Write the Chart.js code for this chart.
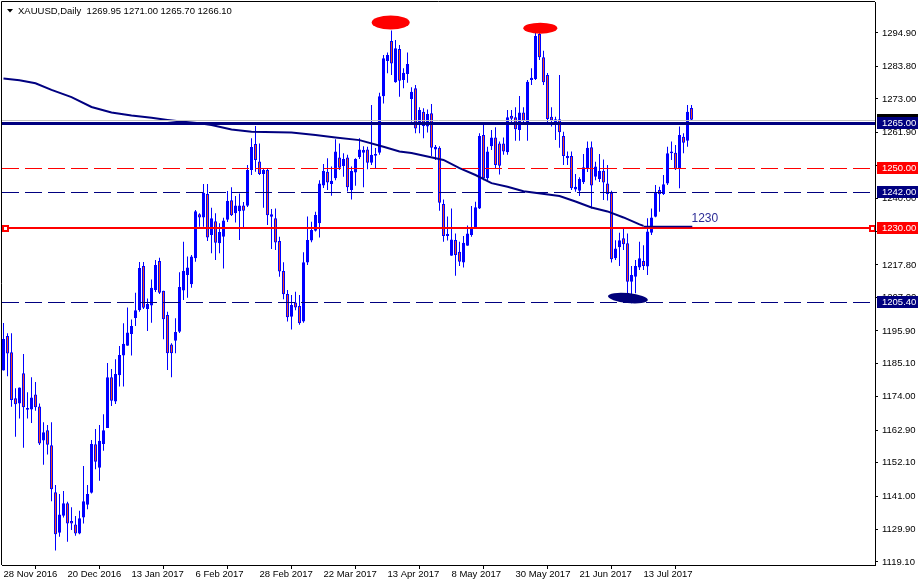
<!DOCTYPE html>
<html>
<head>
<meta charset="utf-8">
<script src="https://cdn.jsdelivr.net/npm/chart.js@4"></script>
<style>
  html, body { margin: 0; padding: 0; background: #fff; }
  canvas { display: block; }
</style>
</head>
<body>
<canvas id="chart" width="918" height="585"></canvas>
<script>
// XAUUSD daily bars, 28 Nov 2016 .. end of Jul 2017
const opens = [
  1182.7,1194.2,1188.8,1173.5,1171.8,1181.8,1169.7,1169.8,1174.8,1170.8,
  1159.5,1162.9,1157.9,1142.3,1128.8,1134.5,1138.6,1132.7,1131.6,1128.6,
  1133.9,1138.1,1142.1,1158.2,1150.4,1158.3,1163.6,1180.5,1172.4,1181.2,
  1187.7,1191.0,1194.9,1200.2,1202.8,1217.5,1203.2,1204.3,1209.5,1219.1,
  1209.2,1201.2,1191.4,1192.6,1195.6,1209.3,1214.5,1211.4,1220.0,1234.7,
  1233.6,1241.4,1227.8,1232.3,1225.0,1227.2,1232.8,1239.3,1235.0,1235.7,
  1237.6,1237.5,1249.4,1258.0,1252.2,1248.0,1249.4,1233.8,1233.3,1225.8,
  1215.8,1208.2,1200.6,1205.3,1204.2,1199.0,1218.6,1225.9,1229.2,1231.7,
  1244.2,1248.8,1244.7,1246.6,1253.5,1250.7,1253.5,1242.7,1248.5,1253.6,
  1255.1,1256.2,1251.8,1254.1,1255.1,1273.9,1285.6,1292.2,1278.5,1289.6,
  1279.3,1281.3,1273.0,1276.5,1264.3,1268.7,1263.8,1268.2,1256.2,1256.8,
  1238.1,1227.4,1220.9,1226.1,1222.2,1218.6,1224.2,1227.8,1230.3,1236.6,
  1261.0,1246.6,1257.3,1260.2,1258.2,1258.2,1255.3,1267.4,1266.9,1262.7,
  1268.5,1264.9,1279.3,1279.6,1294.6,1286.8,1280.9,1267.1,1265.1,1266.2,
  1260.7,1254.0,1254.0,1242.9,1242.5,1245.3,1249.7,1256.9,1247.1,1246.4,
  1249.1,1244.9,1241.8,1220.0,1223.7,1226.7,1225.0,1212.2,1213.9,1217.0,
  1219.1,1217.3,1228.5,1233.8,1242.7,1241.4,1244.9,1254.9,1255.1,1249.9,
  1260.4,1259.1,1269.95
];
const highs = [
  1198.5,1195.1,1195.1,1176.8,1177.1,1188.2,1175.5,1180.5,1178.9,1171.8,
  1165.5,1164.6,1165.5,1144.7,1141.7,1142.7,1139.1,1137.3,1134.4,1136.1,
  1151.0,1144.7,1159.6,1163.3,1164.6,1168.2,1185.2,1183.2,1186.5,1190.9,
  1198.4,1203.7,1199.7,1208.6,1218.8,1218.8,1206.7,1213.0,1219.5,1220.2,
  1209.2,1202.3,1191.8,1200.1,1215.4,1225.5,1220.6,1221.1,1236.1,1235.0,
  1244.7,1244.7,1236.8,1235.0,1231.7,1233.5,1242.4,1243.6,1240.7,1241.6,
  1238.7,1251.0,1259.9,1264.0,1258.2,1250.0,1249.9,1236.4,1236.6,1227.2,
  1218.7,1209.5,1207.8,1208.9,1207.8,1222.0,1233.9,1232.2,1235.5,1246.0,
  1251.4,1253.3,1250.5,1259.6,1258.2,1254.9,1254.4,1250.5,1253.3,1259.9,
  1257.3,1257.1,1271.0,1256.7,1275.0,1287.6,1288.4,1295.7,1292.6,1290.9,
  1283.2,1288.4,1276.9,1277.6,1270.2,1269.9,1269.5,1271.3,1257.7,1257.3,
  1239.6,1233.9,1236.6,1228.3,1225.5,1227.4,1230.9,1237.4,1238.8,1261.6,
  1264.9,1257.1,1262.7,1263.6,1258.8,1260.2,1269.3,1269.3,1270.2,1274.0,
  1270.2,1279.3,1283.2,1295.9,1297.2,1289.0,1281.6,1270.2,1267.1,1280.9,
  1262.1,1255.5,1255.5,1248.0,1247.0,1254.7,1258.8,1258.8,1252.1,1254.7,
  1252.9,1251.0,1242.5,1226.0,1228.5,1230.0,1228.3,1217.5,1219.5,1225.5,
  1224.4,1233.3,1236.6,1244.4,1243.8,1247.7,1257.1,1258.8,1257.7,1263.8,
  1261.6,1271.0,1271.0
];
const lows = [
  1182.7,1180.8,1170.7,1160.7,1166.8,1157.1,1166.8,1165.3,1169.4,1158.0,
  1151.4,1154.8,1139.3,1122.9,1127.5,1133.9,1125.8,1129.7,1127.8,1128.3,
  1131.9,1136.6,1141.9,1149.9,1146.1,1156.1,1163.6,1170.9,1171.6,1177.4,
  1177.4,1191.0,1187.7,1197.5,1202.3,1203.2,1195.9,1198.6,1208.8,1208.2,
  1193.1,1182.9,1180.5,1188.5,1195.2,1206.2,1206.9,1210.2,1218.9,1230.5,
  1230.5,1225.8,1221.7,1219.5,1221.7,1216.6,1232.1,1234.1,1231.9,1226.1,
  1230.1,1237.1,1247.7,1248.8,1247.7,1236.8,1231.1,1223.1,1222.8,1213.9,
  1206.4,1199.0,1196.4,1202.8,1197.9,1198.6,1217.8,1225.4,1228.9,1226.9,
  1243.4,1242.7,1240.8,1246.0,1249.4,1247.1,1242.2,1239.6,1244.1,1253.0,
  1243.6,1249.6,1251.0,1250.0,1254.4,1271.5,1281.5,1280.9,1278.4,1273.7,
  1276.5,1278.4,1265.4,1261.6,1261.6,1259.9,1261.8,1254.0,1252.7,1235.8,
  1225.5,1225.9,1220.9,1214.2,1217.5,1217.0,1224.2,1227.2,1230.3,1236.4,
  1246.0,1246.0,1256.0,1249.7,1247.9,1254.4,1254.4,1264.3,1259.1,1259.1,
  1264.3,1259.1,1277.6,1279.3,1285.9,1277.6,1264.6,1263.8,1259.3,1256.8,
  1251.0,1251.0,1242.7,1242.1,1240.7,1244.7,1248.7,1236.6,1246.0,1245.4,
  1239.4,1239.2,1218.6,1219.5,1217.5,1222.8,1207.8,1205.1,1208.4,1216.1,
  1216.1,1214.5,1227.8,1233.7,1235.5,1241.1,1244.4,1252.7,1249.4,1243.3,
  1254.9,1257.1,1265.7
];
const closes = [
  1193.2,1188.4,1172.9,1171.5,1177.1,1170.5,1170.3,1173.8,1170.5,1158.5,
  1162.2,1158.1,1143.3,1128.3,1134.9,1138.6,1131.9,1131.9,1128.6,1133.6,
  1139.3,1141.7,1158.3,1152.4,1159.4,1162.9,1180.5,1172.7,1181.6,1187.9,
  1191.6,1195.4,1197.5,1202.8,1216.8,1203.6,1204.8,1210.2,1217.8,1208.6,
  1199.8,1188.5,1188.5,1195.5,1210.5,1215.8,1217.0,1220.6,1235.7,1233.6,
  1241.8,1226.9,1233.3,1225.2,1228.8,1232.6,1239.1,1234.3,1237.6,1237.6,
  1235.8,1249.4,1257.0,1252.7,1248.0,1249.4,1234.3,1234.7,1225.3,1215.6,
  1208.1,1200.4,1204.5,1203.7,1198.4,1218.7,1226.1,1229.4,1234.4,1244.9,
  1249.0,1245.2,1245.8,1255.5,1250.1,1253.0,1243.6,1249.0,1253.0,1256.2,
  1256.0,1251.8,1254.4,1254.7,1273.9,1286.5,1287.6,1284.8,1289.8,1279.0,
  1281.7,1284.6,1275.4,1263.2,1269.3,1264.0,1268.0,1256.8,1257.1,1238.5,
  1227.4,1228.1,1226.3,1221.1,1218.9,1225.2,1228.3,1230.3,1237.0,1260.7,
  1246.6,1255.5,1260.2,1251.0,1250.8,1255.5,1266.9,1266.4,1262.9,1268.5,
  1265.7,1278.7,1280.0,1293.9,1286.8,1278.5,1266.3,1265.8,1266.2,1261.9,
  1254.0,1253.3,1243.3,1243.8,1246.4,1250.3,1256.8,1244.2,1250.5,1249.1,
  1245.2,1241.4,1219.7,1223.3,1226.0,1224.7,1212.2,1214.5,1217.5,1220.0,
  1217.5,1228.9,1233.6,1241.9,1241.3,1244.6,1254.9,1255.5,1249.6,1261.0,
  1258.4,1268.7,1266.1
];

// moving average line, read at some bar numbers
const maIdx = [0,4,8,12,17,22,27,32,37,41,45,49,52,57,62,72,78,83,89,95,99,102,110,114,118,122,126,130,139,143,147,151,155,159,160];
const maVals = [1279.8,1279.2,1278.2,1276.0,1273.6,1270.3,1268.5,1267.5,1266.7,1266.0,1265.4,1264.9,1264.3,1262.8,1262.1,1261.8,1261.0,1260.2,1259.3,1257.1,1255.5,1255.0,1252.7,1250.0,1247.7,1245.0,1243.8,1242.3,1240.7,1238.9,1236.9,1235.6,1233.6,1231.3,1230.8];

// axis labels
const xTickIdx = [0,16,32,48,64,80,96,112,128,144,160];
const xTickLabels = ['28 Nov 2016','20 Dec 2016','13 Jan 2017','6 Feb 2017','28 Feb 2017','22 Mar 2017','13 Apr 2017','8 May 2017','30 May 2017','21 Jun 2017','13 Jul 2017'];
const yTickValues = [1294.9,1283.8,1273.0,1261.9,1250.9,1240.0,1228.9,1217.8,1207.0,1195.9,1185.1,1174.0,1162.9,1152.1,1141.0,1129.9,1119.1];

// horizontal levels drawn on the chart
const levelPrices = [1265.00, 1250.00, 1242.00, 1230.00, 1205.40];
const bidPrice = 1266.10;
const trendPrice = 1230.6;       // short line with the "1230" note
const titleText = 'XAUUSD,Daily  1269.95 1271.00 1265.70 1266.10';

const NAVY = '#000080';
const RED = '#ff0000';
const levelStyle = [
  { color: NAVY, width: 3, dash: [] },
  { color: RED, width: 1, dash: [17, 6] },
  { color: NAVY, width: 1, dash: [17, 6] },
  { color: RED, width: 2, dash: [] },
  { color: NAVY, width: 1, dash: [17, 6] }
];

const FONT = '"Liberation Sans", Arial, sans-serif';

const wicks = opens.map((o, i) => ({ x: i, y: [lows[i], highs[i]] }));
const bodies = opens.map((o, i) => ({ x: i, y: [o, closes[i]] }));
const bodyColors = opens.map((o, i) => closes[i] >= o ? '#0000ff' : '#f24a22');
const maPoints = maIdx.map((x, k) => ({ x: x, y: maVals[k] }));

// no extra room for half labels at the ends of the axes
function noPad(s) {
  s.paddingTop = 0; s.paddingBottom = 0; s.paddingLeft = 0; s.paddingRight = 0;
}

// drawings that sit on top of the bars
const mt4Objects = {
  id: 'mt4Objects',
  afterDatasetsDraw(chart) {
    const { ctx, chartArea: a, scales } = chart;
    const x = scales.x, y = scales.y;
    ctx.save();
    ctx.beginPath();
    ctx.rect(a.left, a.top, a.right - a.left, a.bottom - a.top);
    ctx.clip();

    // bid line
    let py = Math.round(y.getPixelForValue(bidPrice)) + 0.5;
    ctx.strokeStyle = '#c0c0c0';
    ctx.lineWidth = 1;
    ctx.beginPath(); ctx.moveTo(a.left, py); ctx.lineTo(a.right, py); ctx.stroke();

    levelPrices.forEach((p, k) => {
      const s = levelStyle[k];
      let ly = y.getPixelForValue(p);
      if (s.width % 2 === 1) ly = Math.round(ly) + 0.5; else ly = Math.round(ly);
      ctx.strokeStyle = s.color;
      ctx.lineWidth = s.width;
      ctx.setLineDash(s.dash);
      ctx.beginPath(); ctx.moveTo(a.left, ly); ctx.lineTo(a.right, ly); ctx.stroke();
    });
    ctx.setLineDash([]);

    // short navy line and its note
    py = Math.round(y.getPixelForValue(trendPrice)) + 0.5;
    ctx.strokeStyle = NAVY;
    ctx.lineWidth = 1.3;
    ctx.beginPath();
    ctx.moveTo(x.getPixelForValue(160), py);
    ctx.lineTo(x.getPixelForValue(172.2), py);
    ctx.stroke();
    ctx.fillStyle = '#2a2a96';
    ctx.font = '12px ' + FONT;
    ctx.textBaseline = 'alphabetic';
    ctx.textAlign = 'left';
    ctx.fillText('1230', x.getPixelForValue(172), py - 5);

    // red marks over the two tops
    ctx.fillStyle = RED;
    ctx.beginPath();
    ctx.ellipse(x.getPixelForValue(96.8), y.getPixelForValue(1298.4), 19, 7, 0, 0, Math.PI * 2);
    ctx.fill();
    ctx.beginPath();
    ctx.ellipse(x.getPixelForValue(134.2), y.getPixelForValue(1296.5), 17, 5.5, 0, 0, Math.PI * 2);
    ctx.fill();

    // navy mark under the low
    ctx.fillStyle = '#00007a';
    ctx.beginPath();
    ctx.ellipse(x.getPixelForValue(156.1), y.getPixelForValue(1206.8), 20, 5, 0.1, 0, Math.PI * 2);
    ctx.fill();

    // selection squares on the 1230 line
    const sy = Math.round(y.getPixelForValue(levelPrices[3]));
    [a.left + 3, a.right - 3].forEach(sx => {
      ctx.fillStyle = RED;
      ctx.fillRect(sx - 3, sy - 3, 7, 7);
      ctx.fillStyle = '#fff';
      ctx.fillRect(sx - 1, sy - 1, 3, 3);
    });
    ctx.restore();
  },
  afterDraw(chart) {
    const { ctx, chartArea: a, scales } = chart;
    const y = scales.y;
    ctx.save();
    // frame
    ctx.strokeStyle = '#000';
    ctx.lineWidth = 1;
    ctx.beginPath();
    ctx.moveTo(a.left - 0.5, a.bottom);
    ctx.lineTo(a.left - 0.5, a.top - 0.5);
    ctx.lineTo(a.right, a.top - 0.5);
    ctx.stroke();

    // price boxes on the axis
    ctx.font = '9.5px ' + FONT;
    ctx.textBaseline = 'middle';
    ctx.textAlign = 'left';
    const box = (p, bg) => {
      const by = Math.round(y.getPixelForValue(p));
      ctx.fillStyle = bg;
      ctx.fillRect(a.right + 2, by - 6, 918 - a.right - 2, 12);
      ctx.fillStyle = '#fff';
      ctx.fillText(p.toFixed(2), a.right + 7, by + 0.5);
    };
    box(bidPrice, '#000');
    levelPrices.forEach((p, k) => box(p, levelStyle[k].color));

    // title
    ctx.fillStyle = '#000';
    ctx.beginPath();
    ctx.moveTo(7, 9); ctx.lineTo(13, 9); ctx.lineTo(10, 12.5); ctx.closePath();
    ctx.fill();
    ctx.font = '9.5px ' + FONT;
    ctx.textBaseline = 'alphabetic';
    ctx.fillText(titleText, 18, 14);
    ctx.restore();
  }
};

new Chart(document.getElementById('chart'), {
  type: 'bar',
  data: {
    datasets: [
      {
        label: 'wicks',
        data: wicks,
        backgroundColor: '#0000ff',
        borderWidth: 0,
        barThickness: 1,
        grouped: false,
        inflateAmount: 0,
        order: 3
      },
      {
        label: 'bodies',
        data: bodies,
        backgroundColor: bodyColors,
        borderColor: '#0000ff',
        borderWidth: 1,
        borderSkipped: false,
        barThickness: 3,
        minBarLength: 1,
        grouped: false,
        inflateAmount: 0,
        order: 2
      },
      {
        type: 'line',
        label: 'MA',
        data: maPoints,
        borderColor: NAVY,
        borderWidth: 2,
        pointRadius: 0,
        tension: 0,
        fill: false,
        order: 1
      }
    ]
  },
  options: {
    responsive: false,
    animation: false,
    devicePixelRatio: 1,
    layout: { padding: { left: 2, top: 2, right: 0, bottom: 0 } },
    plugins: { legend: { display: false }, tooltip: { enabled: false } },
    events: [],
    scales: {
      x: {
        type: 'linear',
        offset: false,
        min: -0.375,
        max: 217.875,
        afterBuildTicks: s => { s.ticks = xTickIdx.map(v => ({ value: v })); },
        afterFit: s => { s.height = 20; noPad(s); },
        grid: { drawOnChartArea: false, tickLength: 4, color: '#000' },
        border: { color: '#000' },
        ticks: {
          autoSkip: false,
          maxRotation: 0,
          align: 'start',
          padding: 0,
          color: '#000',
          font: { family: FONT, size: 9.5 },
          callback: v => xTickLabels[xTickIdx.indexOf(v)]
        }
      },
      y: {
        type: 'linear',
        position: 'right',
        min: 1118.10,
        max: 1305.20,
        afterBuildTicks: s => { s.ticks = yTickValues.map(v => ({ value: v })); },
        afterFit: s => { s.width = 43; noPad(s); },
        grid: { drawOnChartArea: false, tickLength: 3, color: '#000' },
        border: { color: '#000' },
        ticks: {
          autoSkip: false,
          padding: 4,
          color: '#000',
          font: { family: FONT, size: 9.5 },
          callback: v => v.toFixed(2)
        }
      }
    }
  },
  plugins: [mt4Objects]
});
</script>
</body>
</html>
